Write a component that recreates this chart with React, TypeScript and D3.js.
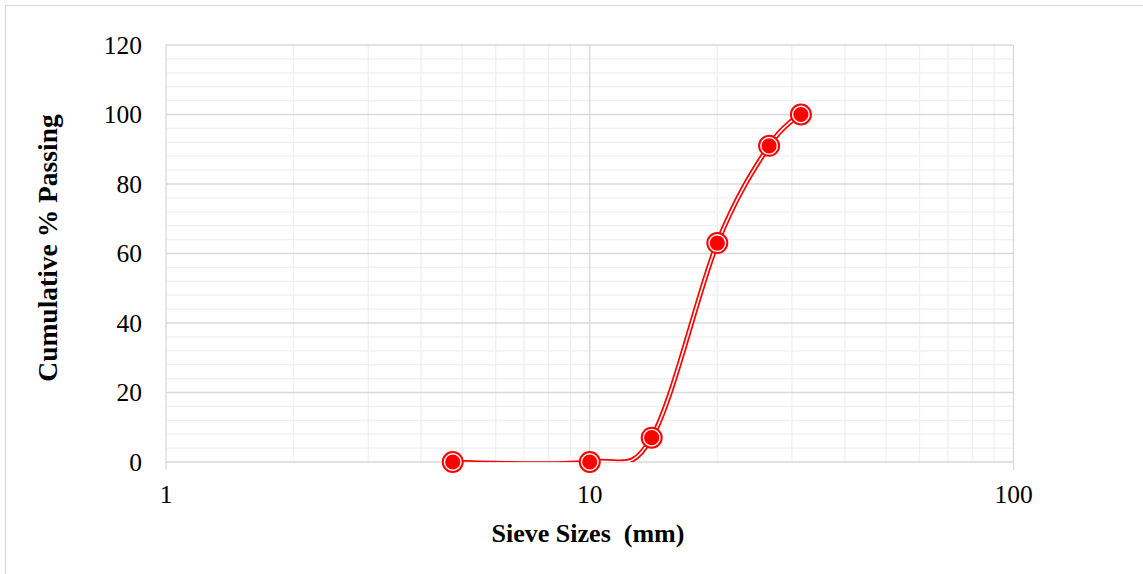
import React from "react";
import * as d3 from "d3";

const sieveSizes = [4.75, 10, 14, 20, 26.5, 31.5];
const passing = [0, 0, 7, 63, 91, 100];
const yTicks = [0, 20, 40, 60, 80, 100, 120];
const xTicks = [1, 10, 100];
const xTitle = "Sieve Sizes  (mm)";
const yTitle = "Cumulative % Passing";

const W = 1143;
const H = 574;
const L = 166, R = 1013.5, T = 45, B = 462;

export default function App() {
  const x = d3.scaleLog().domain([1, 100]).range([L, R]);
  const y = d3.scaleLinear().domain([0, 120]).range([B, T]);

  const minorY = d3.range(0, 121, 4).filter((v) => v % 20 !== 0);
  const minorX: number[] = [];
  for (const dec of [1, 10]) for (let k = 2; k <= 9; k++) minorX.push(dec * k);

  const pts = sieveSizes.map((s, i) => [x(s), y(passing[i])] as [number, number]);
  const line = d3.line().curve(d3.curveCardinal.tension(0))(pts) as string;

  const font = "'Liberation Serif', 'Times New Roman', serif";

  return (
    <svg width={W} height={H} style={{ position: "absolute", left: 0, top: 0, background: "#fff" }} fontFamily={font}>
      <defs>
        <clipPath id="plotclip">
          <rect x={L} y={T} width={R - L} height={B - T} />
        </clipPath>
      </defs>
      <rect x={5.5} y={5.5} width={1300} height={700} fill="#fff" stroke="#d9d9d9" strokeWidth={1.2} />
      {/* minor grid */}
      {minorY.map((v) => (
        <line key={"my" + v} x1={L} x2={R} y1={y(v)} y2={y(v)} stroke="#f0f0f0" strokeWidth={1.3} />
      ))}
      {minorX.map((v) => (
        <line key={"mx" + v} x1={x(v)} x2={x(v)} y1={T} y2={B} stroke="#f0f0f0" strokeWidth={1.3} />
      ))}
      {/* major grid */}
      {yTicks.map((v) => (
        <line key={"gy" + v} x1={L} x2={R} y1={y(v)} y2={y(v)} stroke="#d9d9d9" strokeWidth={1.3} />
      ))}
      {xTicks.map((v) => (
        <line key={"gx" + v} x1={x(v)} x2={x(v)} y1={T} y2={B + 8} stroke="#d9d9d9" strokeWidth={1.3} />
      ))}
      {/* tick labels */}
      {yTicks.map((v) => (
        <text key={"ty" + v} x={142} y={y(v)} dy="0.35em" textAnchor="end" fontSize={25.5} fill="#000">
          {v}
        </text>
      ))}
      {xTicks.map((v) => (
        <text key={"tx" + v} x={x(v)} y={503} textAnchor="middle" fontSize={25.5} fill="#000">
          {v}
        </text>
      ))}
      {/* titles */}
      <text x={588} y={542} textAnchor="middle" fontSize={26} fontWeight="bold" fill="#000" style={{ whiteSpace: "pre" }}>
        {xTitle}
      </text>
      <text transform={`translate(57,248) rotate(-90)`} textAnchor="middle" fontSize={27.5} fontWeight="bold" fill="#000">
        {yTitle}
      </text>
      {/* series */}
      <g clipPath="url(#plotclip)">
        <path d={line} fill="none" stroke="#ff0000" strokeWidth={5} />
        <path d={line} fill="none" stroke="#fff" strokeWidth={1.6} />
      </g>
      {pts.map(([px, py], i) => (
        <g key={"m" + i}>
          <circle cx={px} cy={py} r={10} fill="#ff0000" stroke="#ff0000" strokeWidth={2} />
          <circle cx={px} cy={py} r={8.3} fill="none" stroke="#fff" strokeWidth={1.4} />
        </g>
      ))}
    </svg>
  );
}
